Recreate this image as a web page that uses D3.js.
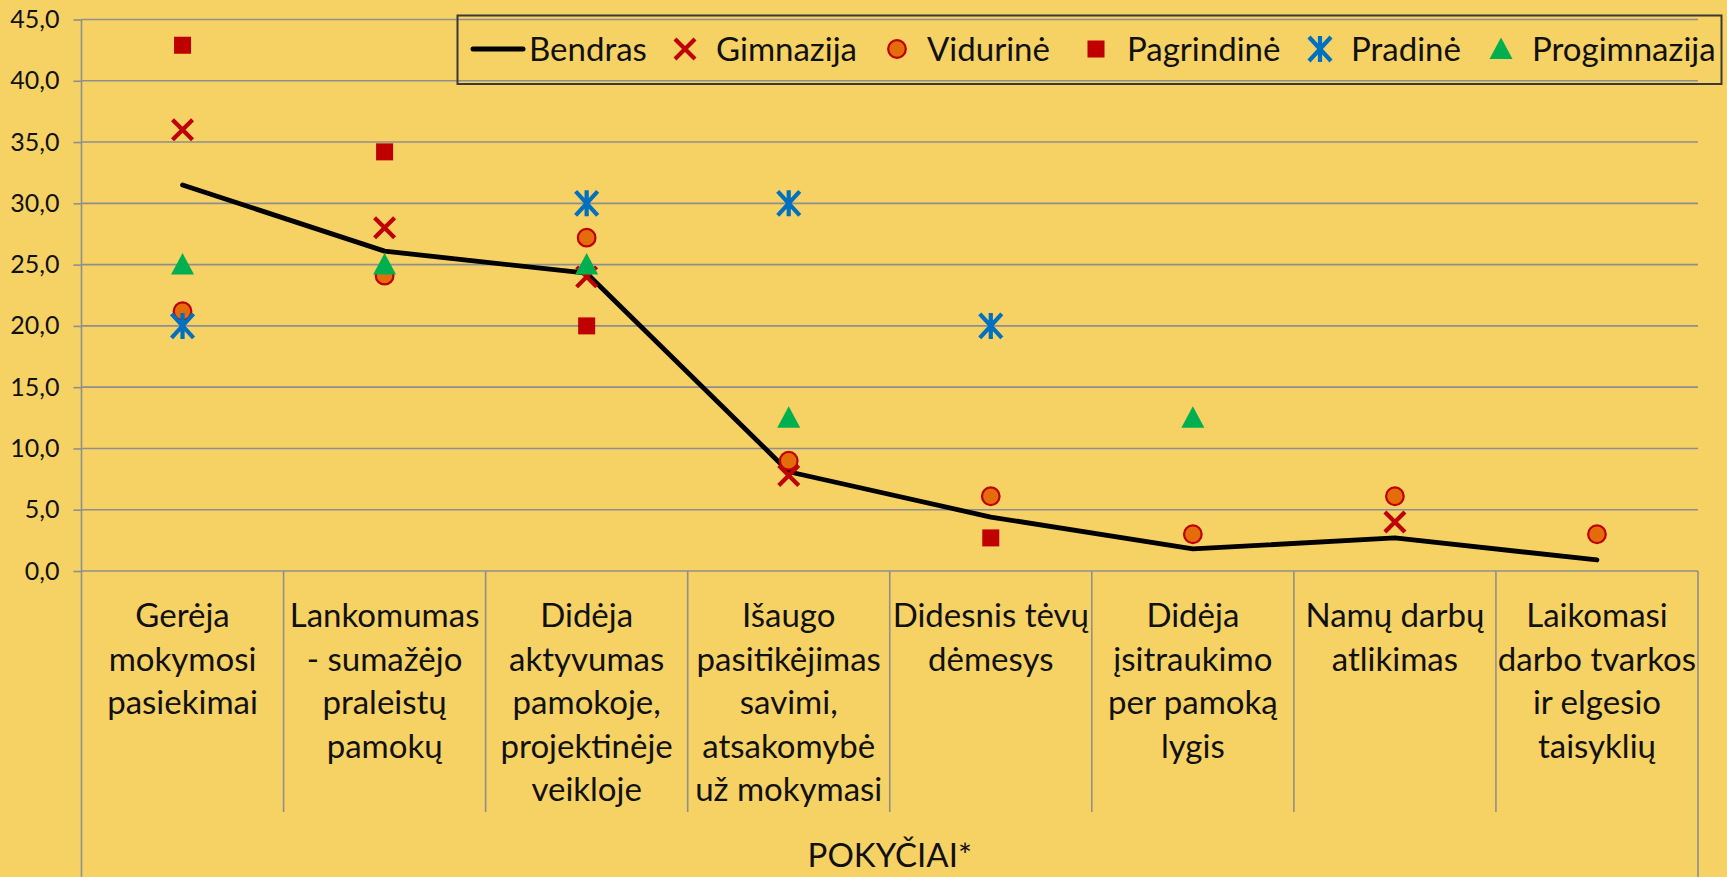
<!DOCTYPE html>
<html>
<head>
<meta charset="utf-8">
<script src="https://cdn.jsdelivr.net/npm/d3@7/dist/d3.min.js"></script>
<style>
  html, body { margin: 0; padding: 0; background: #F6D163; }
  svg { display: block; }
  text { font-family: Lato, "Noto Sans", sans-serif; fill: #111; }
</style>
</head>
<body>
<svg id="chart" width="1727" height="877"></svg>
<script>
// Category labels (line breaks as they wrap under each column)
const categories = [
  "Gerėja\nmokymosi\npasiekimai",
  "Lankomumas\n- sumažėjo\npraleistų\npamokų",
  "Didėja\naktyvumas\npamokoje,\nprojektinėje\nveikloje",
  "Išaugo\npasitikėjimas\nsavimi,\natsakomybė\nuž mokymasi",
  "Didesnis tėvų\ndėmesys",
  "Didėja\nįsitraukimo\nper pamoką\nlygis",
  "Namų darbų\natlikimas",
  "Laikomasi\ndarbo tvarkos\nir elgesio\ntaisyklių"
];
const axisTitle = "POKYČIAI*";

// Series values (%), null where a school type has no answer
const bendras      = [31.5, 26.1, 24.3, 8.1, 4.4, 1.8, 2.7, 0.9];
const gimnazija    = [36.0, 28.0, 24.0, 7.8, null, null, 4.0, null];
const vidurine     = [21.2, 24.1, 27.2, 9.0, 6.1, 3.0, 6.1, 3.0];
const pagrindine   = [42.9, 34.2, 20.0, null, 2.7, null, null, null];
const pradine      = [20.0, null, 30.0, 30.0, 20.0, null, null, null];
const progimnazija = [25.0, 25.0, 25.0, 12.5, null, 12.5, null, null];

const yTicks = [0, 5, 10, 15, 20, 25, 30, 35, 40, 45];
const seriesNames = ["Bendras", "Gimnazija", "Vidurinė", "Pagrindinė", "Pradinė", "Progimnazija"];

const svg = d3.select("#chart");
const W = 1727, H = 877;
const plot = { left: 81.5, right: 1698, top: 19.5, bottom: 571 };

const x = d3.scaleBand().domain(d3.range(categories.length)).range([plot.left, plot.right]);
const y = d3.scaleLinear().domain([0, 45]).range([plot.bottom, plot.top]);
const cx = i => x(i) + x.bandwidth() / 2;

const loc = d3.formatLocale({ decimal: ",", thousands: " ", grouping: [3], currency: ["", ""] });
const fmt = loc.format(".1f");

const gridColor = "#8f8f8f";

// Horizontal gridlines
svg.append("g").selectAll("line").data(yTicks.filter(t => t > 0)).join("line")
  .attr("x1", plot.left).attr("x2", plot.right)
  .attr("y1", d => y(d)).attr("y2", d => y(d))
  .attr("stroke", gridColor).attr("stroke-width", 1.6);

// Y axis with outward tick marks
const yAxis = d3.axisLeft(y).tickValues(yTicks).tickFormat(fmt).tickSize(8).tickPadding(14);
const gy = svg.append("g").attr("transform", `translate(${plot.left},0)`).call(yAxis);
gy.select(".domain").remove();
gy.selectAll(".tick line").attr("stroke", gridColor).attr("stroke-width", 1.6);
gy.selectAll(".tick text").attr("font-size", 25).attr("font-family", "Lato, sans-serif").attr("fill", "#222");
// y axis line running down through the category area
svg.append("line").attr("x1", plot.left).attr("x2", plot.left).attr("y1", plot.top).attr("y2", H)
  .attr("stroke", gridColor).attr("stroke-width", 1.6);

// Category axis: baseline, column dividers, right border
svg.append("line").attr("x1", plot.left).attr("x2", plot.right).attr("y1", plot.bottom).attr("y2", plot.bottom)
  .attr("stroke", gridColor).attr("stroke-width", 1.6);
svg.append("g").selectAll("line").data(d3.range(1, categories.length)).join("line")
  .attr("x1", d => x(d)).attr("x2", d => x(d))
  .attr("y1", plot.bottom).attr("y2", 812)
  .attr("stroke", gridColor).attr("stroke-width", 1.6);
svg.append("line").attr("x1", plot.right).attr("x2", plot.right).attr("y1", plot.bottom).attr("y2", H)
  .attr("stroke", gridColor).attr("stroke-width", 1.6);

// Category labels
const catFont = 33;
const lineGap = 43.5;
const labels = svg.append("g").selectAll("text").data(categories).join("text")
  .attr("text-anchor", "middle").attr("font-size", catFont)
  .attr("transform", (d, i) => `translate(${cx(i)},627)`);
labels.selectAll("tspan").data(d => d.split("\n")).join("tspan")
  .attr("x", 0).attr("y", (d, j) => j * lineGap).text(d => d);

svg.append("text").attr("x", (plot.left + plot.right) / 2).attr("y", 867)
  .attr("text-anchor", "middle").attr("font-size", catFont).text(axisTitle);

// Marker shapes
const markers = {
  x: (g, c) => g.append("path").attr("d", "M-10,-10L10,10M-10,10L10,-10")
      .attr("stroke", c.stroke).attr("stroke-width", 4.2).attr("fill", "none"),
  circle: (g, c) => g.append("circle").attr("r", 8.8)
      .attr("fill", c.fill).attr("stroke", c.stroke).attr("stroke-width", 2.2),
  square: (g, c) => g.append("rect").attr("x", -8.5).attr("y", -8.5).attr("width", 17).attr("height", 17)
      .attr("fill", c.fill),
  star: (g, c) => g.append("path").attr("d", "M-11,-12L11,12M-11,12L11,-12M0,-13L0,13")
      .attr("stroke", c.stroke).attr("stroke-width", 4.2).attr("fill", "none"),
  triangle: (g, c) => g.append("path").attr("d", "M0,-11.5L11.5,10L-11.5,10Z")
      .attr("fill", c.fill)
};

const scatter = [
  { name: "Gimnazija",    values: gimnazija,    shape: "x",        style: { stroke: "#C00000" } },
  { name: "Vidurinė",     values: vidurine,     shape: "circle",   style: { fill: "#E46C0A", stroke: "#C00000" } },
  { name: "Pagrindinė",   values: pagrindine,   shape: "square",   style: { fill: "#C00000" } },
  { name: "Pradinė",      values: pradine,      shape: "star",     style: { stroke: "#0070C0" } },
  { name: "Progimnazija", values: progimnazija, shape: "triangle", style: { fill: "#00B050" } }
];

// Overall line
const line = d3.line().x((d, i) => cx(i)).y(d => y(d));
svg.append("path").datum(bendras).attr("d", line)
  .attr("fill", "none").attr("stroke", "#000").attr("stroke-width", 4.8)
  .attr("stroke-linejoin", "round").attr("stroke-linecap", "round");

// Point series
scatter.forEach(s => {
  const g = svg.append("g");
  s.values.forEach((v, i) => {
    if (v == null) return;
    const m = g.append("g").attr("transform", `translate(${cx(i)},${y(v)})`);
    markers[s.shape](m, s.style);
  });
});

// Legend
const legend = svg.append("g");
legend.append("rect").attr("x", 457.5).attr("y", 15.5).attr("width", 1264).attr("height", 68.5)
  .attr("fill", "none").attr("stroke", "#3a3a3a").attr("stroke-width", 2);
const legY = 49;
const legendItems = [
  { sym: 498, txt: 529 },
  { sym: 685, txt: 716 },
  { sym: 897, txt: 927 },
  { sym: 1096, txt: 1127 },
  { sym: 1320, txt: 1351 },
  { sym: 1501, txt: 1532 }
];
legend.append("line").attr("x1", 473).attr("x2", 523).attr("y1", legY).attr("y2", legY)
  .attr("stroke", "#000").attr("stroke-width", 5).attr("stroke-linecap", "round");
scatter.forEach((s, k) => {
  const m = legend.append("g").attr("transform", `translate(${legendItems[k + 1].sym},${legY})`);
  markers[s.shape](m, s.style);
});
legend.selectAll("text.lab").data(seriesNames).join("text").attr("class", "lab")
  .attr("x", (d, i) => legendItems[i].txt).attr("y", 61).attr("font-size", catFont).text(d => d);
</script>
</body>
</html>
